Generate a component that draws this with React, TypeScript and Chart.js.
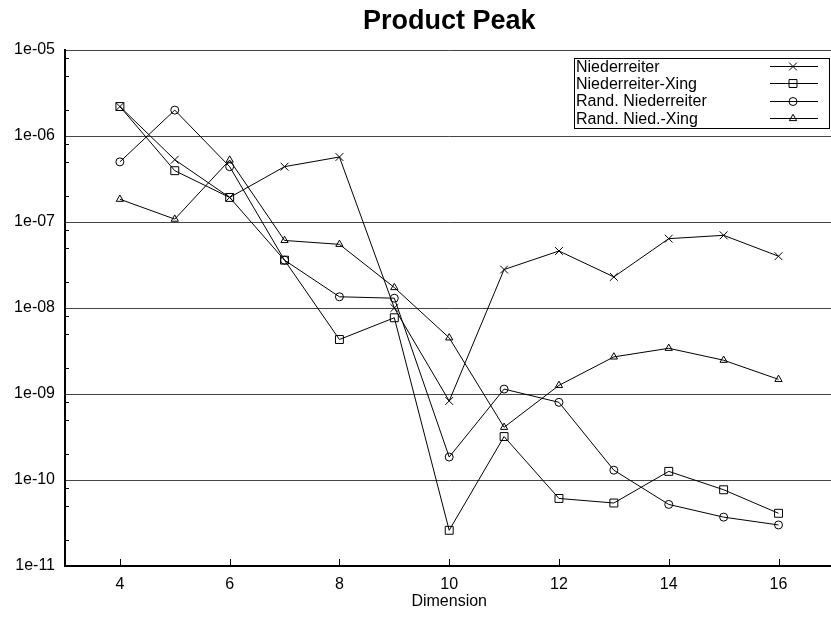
import React, { useEffect, useRef } from 'react';
import { Chart, registerables } from 'chart.js';
import { drawPoint } from 'chart.js/helpers';

Chart.register(...registerables);

const dimensions = [4, 5, 6, 7, 8, 9, 10, 11, 12, 13, 14, 15, 16];
const niederreiter = [2.2e-6, 5.3e-7, 1.93e-7, 4.4e-7, 5.7e-7, 1.0e-8, 8.3e-10, 2.8e-8, 4.6e-8, 2.3e-8, 6.4e-8, 7.0e-8, 4.0e-8];
const niederreiterXing = [2.2e-6, 3.95e-7, 1.93e-7, 3.6e-8, 4.3e-9, 7.7e-9, 2.6e-11, 3.2e-10, 6.1e-11, 5.4e-11, 1.26e-10, 7.7e-11, 4.1e-11];
const randNiederreiter = [5.0e-7, 2.0e-6, 4.4e-7, 3.6e-8, 1.35e-8, 1.3e-8, 1.85e-10, 1.14e-9, 8.0e-10, 1.3e-10, 5.2e-11, 3.7e-11, 3.0e-11];
const randNiedXing = [1.84e-7, 1.08e-7, 5.25e-7, 6.1e-8, 5.5e-8, 1.73e-8, 4.5e-9, 4.1e-10, 1.26e-9, 2.7e-9, 3.4e-9, 2.47e-9, 1.48e-9];

const seriesNames = ['Niederreiter', 'Niederreiter-Xing', 'Rand. Niederreiter', 'Rand. Nied.-Xing'];
const seriesValues = [niederreiter, niederreiterXing, randNiederreiter, randNiedXing];
const seriesMarkers = ['crossRot', 'rect', 'circle', 'triangle'];
const markerRadius = [5.5, 5.6, 4, 4.2];

const yTickValues = [1e-11, 1e-10, 1e-9, 1e-8, 1e-7, 1e-6, 1e-5];
const xTickValues = [4, 6, 8, 10, 12, 14, 16];
const minorMantissas = [2, 5, 8];
const titleText = 'Product Peak';
const xAxisTitle = 'Dimension';

const FONT = '"Liberation Sans", Arial, Helvetica, sans-serif';

function fmtExp(v: number): string {
  const s = Number(v).toExponential(0);
  return s.replace(/e([+-])(\d)$/, 'e$10$2').replace('e+', 'e+');
}

export default function App() {
  const ref = useRef<HTMLCanvasElement>(null);

  useEffect(() => {
    const canvas = ref.current;
    if (!canvas) return;

    const datasets = seriesNames.map((name, k) => ({
      label: name,
      data: dimensions.map((d, i) => ({ x: d, y: seriesValues[k][i] })),
      borderColor: '#000',
      borderWidth: 1,
      backgroundColor: 'transparent',
      pointStyle: seriesMarkers[k] as any,
      pointRadius: markerRadius[k],
      pointHoverRadius: markerRadius[k],
      pointBorderColor: '#000',
      pointBackgroundColor: 'transparent',
      pointBorderWidth: 1,
      tension: 0,
      fill: false,
    }));

    const decor = {
      id: 'decor',
      afterDraw(chart: any) {
        const { ctx, chartArea, scales } = chart;
        const x = scales.x;
        const y = scales.y;
        ctx.save();
        ctx.strokeStyle = '#000';
        ctx.lineWidth = 1;
        ctx.beginPath();
        for (let e = -11; e < -5; e++) {
          for (const m of minorMantissas) {
            const py = Math.round(y.getPixelForValue(m * Math.pow(10, e))) + 0.5;
            ctx.moveTo(chartArea.left, py);
            ctx.lineTo(chartArea.left + 4, py);
          }
        }
        for (const v of xTickValues) {
          const px = Math.round(x.getPixelForValue(v)) + 0.5;
          ctx.moveTo(px, chartArea.bottom);
          ctx.lineTo(px, chartArea.bottom - 7);
        }
        ctx.stroke();

        // title
        ctx.fillStyle = '#000';
        ctx.font = `bold 27px ${FONT}`;
        ctx.textAlign = 'center';
        ctx.textBaseline = 'alphabetic';
        ctx.fillText(titleText, (chartArea.left + chartArea.right) / 2, 29);

        // legend
        const boxL = 574.5, boxT = 58.5, boxR = 829.5, boxB = 128.5;
        ctx.strokeRect(boxL, boxT, boxR - boxL, boxB - boxT);
        ctx.font = `16px ${FONT}`;
        ctx.textAlign = 'left';
        seriesNames.forEach((name, k) => {
          const cy = 66 + k * 17.3;
          ctx.fillStyle = '#000';
          ctx.fillText(name, 576, cy + 5.7);
          ctx.beginPath();
          ctx.moveTo(770, Math.round(cy) + 0.5);
          ctx.lineTo(818, Math.round(cy) + 0.5);
          ctx.stroke();
          ctx.fillStyle = 'transparent';
          drawPoint(ctx, {
            pointStyle: seriesMarkers[k] as any,
            radius: markerRadius[k],
            rotation: 0,
            borderWidth: 1,
          } as any, 793, Math.round(cy) + 0.5);
        });
        ctx.restore();
      },
    };

    const chart = new Chart(canvas, {
      type: 'line',
      data: { datasets: datasets as any },
      options: {
        responsive: false,
        animation: false,
        devicePixelRatio: 1,
        layout: { padding: { top: 50, right: 0, bottom: 0, left: 0 } },
        plugins: {
          legend: { display: false },
          title: { display: false },
          tooltip: { enabled: false },
        },
        scales: {
          x: {
            type: 'linear',
            min: 3,
            max: 17,
            afterBuildTicks: (s: any) => {
              s.ticks = xTickValues.map((v) => ({ value: v }));
            },
            afterFit: (s: any) => {
              s.height = 53;
            },
            grid: { display: false, drawTicks: false },
            border: { display: true, color: '#000', width: 2 },
            ticks: {
              padding: 9,
              color: '#000',
              font: { family: FONT, size: 16 },
              maxRotation: 0,
              autoSkip: false,
              callback: (v: any) => String(v),
            },
            title: {
              display: true,
              text: xAxisTitle,
              color: '#000',
              font: { family: FONT, size: 16 },
              padding: { top: 0, bottom: 8 },
            },
          },
          y: {
            type: 'logarithmic',
            min: 1e-11,
            max: 1e-5,
            afterBuildTicks: (s: any) => {
              s.ticks = yTickValues.map((v) => ({ value: v }));
            },
            afterFit: (s: any) => {
              s.width = 65;
            },
            grid: { color: '#444', lineWidth: 1, drawTicks: false },
            border: { display: true, color: '#000', width: 2 },
            ticks: {
              padding: 10,
              color: '#000',
              font: { family: FONT, size: 16 },
              autoSkip: false,
              callback: (v: any) => fmtExp(Number(v)),
            },
          },
        },
      } as any,
      plugins: [decor],
    });

    return () => chart.destroy();
  }, []);

  return (
    <div
      style={{
        position: 'fixed',
        left: 0,
        top: 0,
        width: 831,
        height: 619,
        overflow: 'hidden',
        background: '#fff',
      }}
    >
      <canvas ref={ref} width={840} height={619} style={{ display: 'block', width: 840, height: 619 }} />
    </div>
  );
}
